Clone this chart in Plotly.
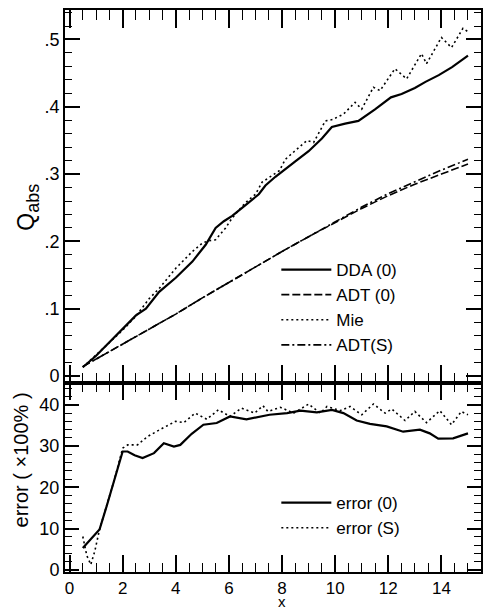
import plotly.graph_objects as go

FONT = "Liberation Sans"

# ---------------- top panel data ----------------
x_dda = [0.5, 1.0, 1.25, 1.875, 2.5, 2.875, 3.375, 4.0, 4.625, 5.125, 5.5, 5.81, 6.125,
         6.625, 7.125, 7.375, 7.75, 8.5, 9.0, 9.5, 9.875, 10.375, 10.875, 11.5, 12.1,
         12.5, 13.0, 13.4, 13.9, 14.4, 15.0]
q_dda = [0.013, 0.030, 0.040, 0.065, 0.090, 0.100, 0.125, 0.146, 0.170, 0.195, 0.220,
         0.230, 0.238, 0.254, 0.270, 0.283, 0.296, 0.319, 0.334, 0.353, 0.370, 0.375,
         0.379, 0.396, 0.414, 0.419, 0.428, 0.437, 0.447, 0.459, 0.476]

x_mie = [0.5, 1.0, 1.5, 2.0, 2.5, 2.75, 3.0, 3.375, 4.0, 4.625, 5.0, 5.25, 5.5, 5.875,
         6.125, 6.625, 7.0, 7.25, 7.6, 7.9, 8.125, 8.44, 8.94, 9.19, 9.63, 9.9, 10.31,
         10.75, 11.0, 11.44, 11.69, 12.25, 12.69, 13.25, 13.44, 14.0, 14.38, 14.81, 15.0]
q_mie = [0.013, 0.031, 0.049, 0.068, 0.089, 0.1025, 0.115, 0.130, 0.160, 0.185, 0.1975,
         0.201, 0.2025, 0.220, 0.235, 0.2575, 0.270, 0.288, 0.297, 0.305, 0.322, 0.333,
         0.350, 0.347, 0.379, 0.381, 0.389, 0.4065, 0.3965, 0.429, 0.424, 0.4565, 0.4415,
         0.479, 0.464, 0.503, 0.488, 0.5165, 0.5115]

x_adt = [0.5, 1, 2, 3, 4, 5, 6, 7, 8, 9, 10, 11, 12, 13, 14, 15]
q_adt0 = [0.014, 0.025, 0.047, 0.070, 0.092, 0.116, 0.139, 0.163, 0.185, 0.207, 0.228,
          0.249, 0.268, 0.285, 0.300, 0.315]
q_adts = [0.014, 0.025, 0.047, 0.070, 0.092, 0.116, 0.139, 0.163, 0.185, 0.207, 0.229,
          0.251, 0.271, 0.289, 0.306, 0.322]

# ---------------- bottom panel data ----------------
x_err0 = [0.5, 0.8, 1.13, 1.4, 1.69, 2.0, 2.19, 2.45, 2.75, 3.18, 3.55, 3.93, 4.17, 4.6,
          5.04, 5.54, 6.04, 6.66, 7.53, 8.19, 8.69, 9.31, 9.88, 10.31, 10.81, 11.31,
          11.94, 12.56, 13.19, 13.56, 13.88, 14.44, 15.0]
e_err0 = [5.3, 7.5, 9.8, 15.5, 21.9, 28.7, 28.7, 27.8, 27.1, 28.3, 30.7, 29.9, 30.3, 33.0,
          35.2, 35.6, 37.2, 36.5, 37.6, 38.0, 38.6, 38.2, 38.8, 38.0, 36.2, 35.4, 34.8,
          33.5, 34.0, 33.1, 31.8, 31.9, 33.1]

x_errs = [0.5, 0.65, 0.8, 0.95, 1.13, 1.4, 1.69, 2.0, 2.19, 2.56, 2.93, 3.43, 3.99, 4.3,
          4.73, 5.17, 5.6, 6.04, 6.47, 6.97, 7.28, 7.47, 7.94, 8.44, 9.0, 9.44, 9.69,
          10.19, 10.56, 11.0, 11.44, 11.88, 12.13, 12.63, 13.0, 13.44, 13.94, 14.38,
          14.75, 15.0]
e_errs = [8.1, 3.5, 1.3, 4.5, 9.8, 15.5, 21.9, 29.5, 30.3, 30.3, 32.3, 34.1, 36.0, 35.7,
          38.0, 36.5, 38.8, 37.2, 39.2, 38.0, 39.8, 38.4, 39.4, 38.0, 40.2, 38.0, 39.6,
          38.6, 39.6, 37.6, 40.2, 38.0, 39.0, 36.2, 38.4, 35.7, 38.6, 35.2, 38.4, 37.6]

# ---------------- tick labels ----------------
q_tickvals = [0, 0.1, 0.2, 0.3, 0.4, 0.5]
q_ticktext = ["0", ".1", ".2", ".3", ".4", ".5"]
e_tickvals = [0, 10, 20, 30, 40]
x_tickvals = [0, 2, 4, 6, 8, 10, 12, 14]

fig = go.Figure()

fig.add_trace(go.Scatter(x=x_dda, y=q_dda, mode="lines", name="DDA (0)",
                         line=dict(color="black", width=2.2), xaxis="x", yaxis="y",
                         legend="legend"))
fig.add_trace(go.Scatter(x=x_adt, y=q_adt0, mode="lines", name="ADT (0)",
                         line=dict(color="black", width=1.6, dash="8px,3px"),
                         xaxis="x", yaxis="y", legend="legend"))
fig.add_trace(go.Scatter(x=x_mie, y=q_mie, mode="lines", name="Mie",
                         line=dict(color="black", width=1.6, dash="2px,3px"),
                         xaxis="x", yaxis="y", legend="legend"))
fig.add_trace(go.Scatter(x=x_adt, y=q_adts, mode="lines", name="ADT(S)",
                         line=dict(color="black", width=1.6, dash="8px,3px,2px,3px"),
                         xaxis="x", yaxis="y", legend="legend"))

fig.add_trace(go.Scatter(x=x_err0, y=e_err0, mode="lines", name="error (0)",
                         line=dict(color="black", width=2.2), xaxis="x2", yaxis="y2",
                         legend="legend2"))
fig.add_trace(go.Scatter(x=x_errs, y=e_errs, mode="lines", name="error (S)",
                         line=dict(color="black", width=1.6, dash="2px,3px"),
                         xaxis="x2", yaxis="y2", legend="legend2"))

tickfont = dict(family=FONT, size=18, color="black")
base = dict(showline=True, linecolor="black", linewidth=2, mirror="ticks",
            ticks="inside", showgrid=False, zeroline=False, tickcolor="black",
            tickwidth=1.5, tickfont=tickfont)

XR = [-0.17, 15.49]
SPLIT = 0.3363

fig.update_layout(
    width=489, height=611,
    margin=dict(l=65, r=6, t=10, b=39),
    paper_bgcolor="white", plot_bgcolor="white",
    xaxis=dict(base, domain=[0, 1], anchor="y", range=XR, tickmode="linear",
               tick0=0, dtick=2, ticklen=18, showticklabels=False,
               minor=dict(dtick=0.5, tick0=0, ticklen=10, ticks="inside",
                          tickcolor="black", tickwidth=1.3, showgrid=False)),
    yaxis=dict(base, domain=[SPLIT, 1], anchor="x", range=[-0.0104, 0.5438],
               tickmode="array", tickvals=q_tickvals, ticktext=q_ticktext, ticklen=15,
               minor=dict(dtick=0.02, tick0=0, ticklen=7, ticks="inside",
                          tickcolor="black", tickwidth=1.3, showgrid=False)),
    xaxis2=dict(base, domain=[0, 1], anchor="y2", range=XR, matches="x",
                tickmode="array", tickvals=x_tickvals, ticklen=17,
                tickfont=dict(family=FONT, size=17, color="black"),
                minor=dict(dtick=0.5, tick0=0, ticklen=9, ticks="inside",
                           tickcolor="black", tickwidth=1.3, showgrid=False)),
    yaxis2=dict(base, domain=[0, SPLIT], anchor="x2", range=[-0.5, 45.3],
                tickmode="array", tickvals=e_tickvals, ticklen=14,
                minor=dict(dtick=2, tick0=0, ticklen=7, ticks="inside",
                           tickcolor="black", tickwidth=1.3, showgrid=False)),
    legend=dict(x=0.508, y=0.5694, xanchor="left", yanchor="top",
                bgcolor="rgba(0,0,0,0)", font=dict(family=FONT, size=17, color="black"),
                itemwidth=50, tracegroupgap=0),
    legend2=dict(x=0.508, y=0.1547, xanchor="left", yanchor="top",
                 bgcolor="rgba(0,0,0,0)", font=dict(family=FONT, size=17, color="black"),
                 itemwidth=50, tracegroupgap=0),
    annotations=[
        dict(text="Q<sub><span style='font-size:18px'>abs</span></sub>",
             xref="paper", yref="paper", x=-0.089, y=0.65, xanchor="center",
             yanchor="middle", textangle=-90, showarrow=False,
             font=dict(family=FONT, size=23, color="black")),
        dict(text="error ( ×100% )", xref="paper", yref="paper", x=-0.105, y=0.199,
             xanchor="center", yanchor="middle", textangle=-90, showarrow=False,
             font=dict(family=FONT, size=20, color="black")),
        dict(text="x", xref="x2", yref="paper", x=8, y=-0.0694, yanchor="bottom",
             xanchor="center", showarrow=False, borderpad=0,
             font=dict(family=FONT, size=15, color="black")),
    ],
)

fig.write_html("out.html", config={"displayModeBar": False},
               post_script="document.body.style.margin='0';"
                           "document.body.style.overflow='hidden';")
